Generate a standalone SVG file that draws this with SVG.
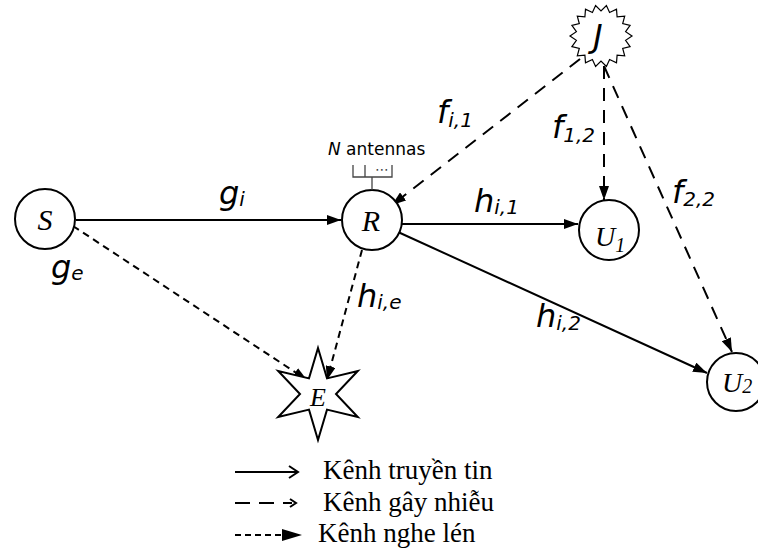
<svg xmlns="http://www.w3.org/2000/svg" width="758" height="559" viewBox="0 0 758 559">
<style>
.node{fill:#fff;stroke:#000;stroke-width:2}
.thin{fill:#fff;stroke:#000;stroke-width:1.2}
.solid{stroke:#000;stroke-width:2;fill:none}
.jam{stroke:#000;stroke-width:2;fill:none;stroke-dasharray:13 9}
.eav{stroke:#000;stroke-width:2;fill:none;stroke-dasharray:7 5}
.nl{font-family:"Liberation Serif",serif;font-style:italic;fill:#000}
.lab{font-family:"DejaVu Sans",sans-serif;font-style:oblique;fill:#000;font-size:32px}
.sub{font-size:20px}
.leg{font-family:"Liberation Serif","DejaVu Serif",serif;font-size:27px;fill:#000}
</style>
<defs>
<marker id="ah" viewBox="0 0 14 10" refX="14" refY="5" markerWidth="14" markerHeight="10" markerUnits="userSpaceOnUse" orient="auto">
<path d="M0,0 L14,5 L0,10 z" fill="#000"/>
</marker>
</defs>
<g id="connectors">
<line class="solid" x1="76" y1="220" x2="341" y2="220" marker-end="url(#ah)"/>
<line class="eav" x1="73" y1="226" x2="307" y2="380" marker-end="url(#ah)"/>
<line class="eav" x1="362" y1="250" x2="327" y2="380" marker-end="url(#ah)"/>
<line class="solid" x1="402" y1="224" x2="578" y2="224" marker-end="url(#ah)"/>
<line class="solid" x1="398" y1="232" x2="707" y2="373" marker-end="url(#ah)"/>
<line class="jam" x1="580" y1="59" x2="392" y2="205" marker-end="url(#ah)"/>
<line class="jam" x1="604" y1="66" x2="604" y2="200" marker-end="url(#ah)"/>
<line class="jam" x1="604" y1="66" x2="732" y2="352" marker-end="url(#ah)"/>
<text class="lab" x="219" y="204">g<tspan class="sub" dy="2">i</tspan></text>
<text class="lab" x="51" y="278">g<tspan class="sub" dy="2">e</tspan></text>
<text class="lab" x="357" y="307">h<tspan class="sub" dy="2">i,e</tspan></text>
<text class="lab" x="474" y="212">h<tspan class="sub" dy="2">i,1</tspan></text>
<text class="lab" x="536" y="327">h<tspan class="sub" dy="3">i,2</tspan></text>
<text class="lab" x="437" y="123">f<tspan class="sub" dy="4">i,1</tspan></text>
<text class="lab" x="552" y="138">f<tspan class="sub" dy="4">1,2</tspan></text>
<text class="lab" x="672" y="203">f<tspan class="sub" dy="3">2,2</tspan></text>
</g>
<g id="S">
<circle class="node" cx="45" cy="219" r="30"/>
<text class="nl" x="45" y="230" font-size="30" text-anchor="middle">S</text>
</g>
<g id="R">
<circle class="node" cx="372" cy="220" r="30"/>
<text class="nl" x="371" y="231" font-size="30" text-anchor="middle">R</text>
<g id="antennas" stroke="#444" stroke-width="1.3" fill="none">
<path d="M353,165 V177 H392 V165 M365,165 V177 M372,177 V190"/>
</g>
<text x="375" y="174" font-family="DejaVu Sans,sans-serif" font-size="14" fill="#444">⋯</text>
<text x="328" y="155" font-family="DejaVu Sans,sans-serif" font-size="17" fill="#000"><tspan font-style="oblique">N</tspan> antennas</text>
</g>
<g id="U1">
<circle class="node" cx="609" cy="230" r="30"/>
<text class="nl" x="595" y="246" font-size="28">U<tspan font-size="20" dy="6">1</tspan></text>
</g>
<g id="U2">
<circle class="node" cx="736" cy="382" r="29"/>
<text class="nl" x="722" y="392" font-size="28">U<tspan font-size="20" dy="1">2</tspan></text>
</g>
<g id="J">
<polygon class="thin" points="632,36 625.6,40.3 630.1,46.6 622.7,48.5 624.7,55.9 617.1,55.2 616.5,62.8 609.6,59.5 606.4,66.5 601,61 595.6,66.5 592.4,59.5 585.5,62.8 584.9,55.2 577.3,55.9 579.3,48.5 571.9,46.6 576.4,40.3 570,36 576.4,31.7 571.9,25.4 579.3,23.5 577.3,16.1 584.9,16.8 585.5,9.2 592.4,12.5 595.6,5.5 601,11 606.4,5.5 609.6,12.5 616.5,9.2 617.1,16.8 624.7,16.1 622.7,23.5 630.1,25.4 625.6,31.7"/>
<text x="598" y="47" font-family="DejaVu Sans,sans-serif" font-style="oblique" font-size="32" text-anchor="middle">J</text>
</g>
<g id="E">
<polygon class="node" points="318,348 327,378.4 357.8,371 336,394 357.8,417 327,409.6 318,440 309,409.6 278.2,417 300,394 278.2,371 309,378.4"/>
<text class="nl" x="318" y="406" font-size="26" text-anchor="middle">E</text>
</g>
<g id="legend">
<line x1="235" y1="472" x2="297" y2="472" stroke="#000" stroke-width="2"/>
<path d="M289,466 L298,472 L289,478" fill="none" stroke="#000" stroke-width="2"/>
<text class="leg" x="323" y="479">Kênh truyền tin</text>
<line x1="235" y1="503" x2="292" y2="503" stroke="#000" stroke-width="2" stroke-dasharray="15 9"/>
<path d="M290,499 L296,503 L290,507" fill="none" stroke="#000" stroke-width="2"/>
<text class="leg" x="323" y="511">Kênh gây nhiễu</text>
<line x1="235" y1="535" x2="284" y2="535" stroke="#000" stroke-width="2" stroke-dasharray="6 4"/>
<path d="M282,529 L302,535 L282,541 z" fill="#000"/>
<text class="leg" x="318" y="542">Kênh nghe lén</text>
</g>
</svg>
